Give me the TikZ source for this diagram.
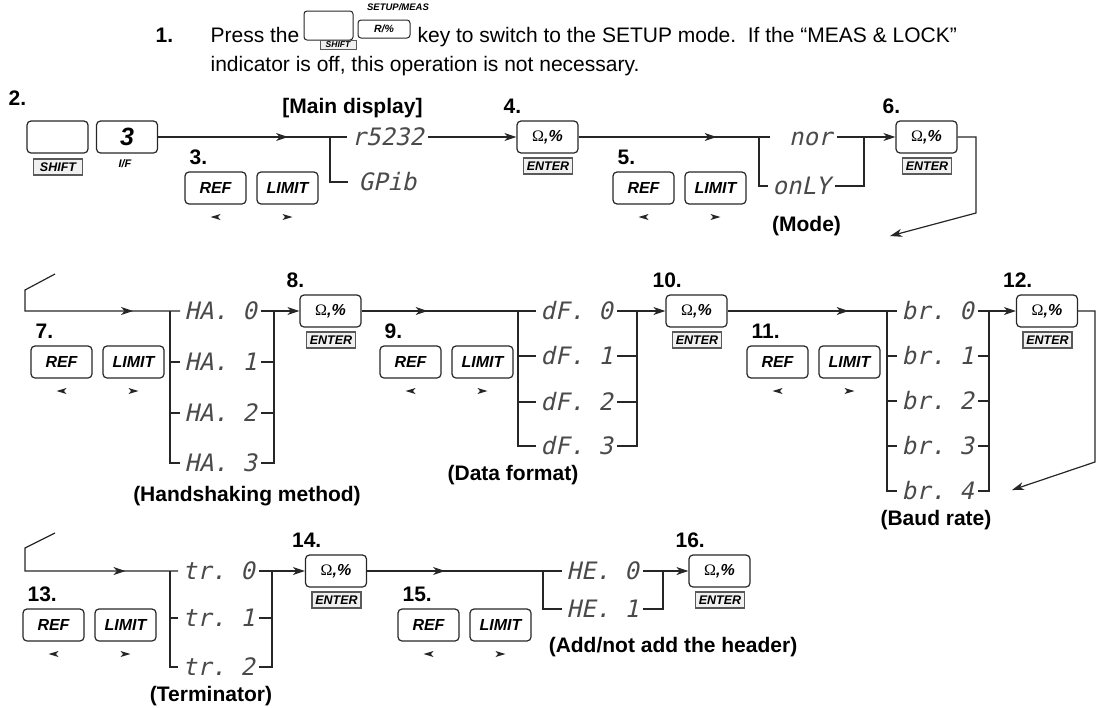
\documentclass[tikz,border=0pt]{standalone}
\usepackage{fontspec}
\setmainfont{Liberation Sans}
\newfontfamily\omegafont{Liberation Serif}
\newfontfamily\segfont[FakeSlant=0.22]{DejaVu Sans Mono}
\usetikzlibrary{arrows.meta, decorations.markings, positioning}
\definecolor{inkGrey}{HTML}{262626}
\definecolor{segGrey}{HTML}{4A4A4A}
\definecolor{tagFill}{HTML}{F0F0F0}
\newcommand{\ohmsign}{{\omegafont\mdseries\upshape Ω},\%}
\tikzset{
  % one line weight and one arrow tip for the whole chart
  every picture/.append style = {line width=1.2pt, >={Stealth[length=12pt, width=8pt, inset=3.5pt]}},
  wire/.style      = {inkGrey, line width=1.2pt},
  arrowhead/.style = {decoration={markings,
                        mark=at position #1 with {\arrow{>}}},
                       postaction={decorate}},
  key/.style       = {draw=inkGrey, rounded corners=4pt, minimum width=61pt, minimum height=32pt,
                      inner sep=0pt, font=\fontsize{16}{18}\selectfont\bfseries\itshape},
  keytag/.style    = {draw=black!65, fill=tagFill, line width=1.3pt, minimum width=49pt,
                      minimum height=16pt, inner sep=0pt, font=\fontsize{12.5}{14}\selectfont\bfseries\itshape},
  seg/.style       = {anchor=west, inner xsep=4pt, inner ysep=0pt, text height=17.5pt, text depth=0pt,
                      text=segGrey, font=\fontsize{24}{26}\selectfont\segfont},
  stepno/.style    = {anchor=base west, inner sep=0pt, font=\fontsize{21}{24}\selectfont\bfseries},
  lbl/.style       = {inner sep=0pt, font=\fontsize{21}{24}\selectfont\bfseries},
  txt/.style       = {anchor=base west, inner sep=0pt, font=\fontsize{21}{26}\selectfont},
  pics/lefttip/.style  = {code={\fill[inkGrey] (-5pt,0pt) -- (5pt,3pt) -- (2.5pt,0pt) -- (5pt,-3pt) -- cycle;}},
  pics/righttip/.style = {code={\fill[inkGrey] (5pt,0pt) -- (-5pt,3pt) -- (-2.5pt,0pt) -- (-5pt,-3pt) -- cycle;}},
}

\begin{document}
\begin{tikzpicture}[x=1pt, y=-1pt,
    minikey/.style={draw=inkGrey, line width=1pt, rounded corners=3pt, inner sep=0pt},
    minitag/.style={draw=black!65, fill=tagFill, line width=1pt, inner sep=0pt,
                    font=\fontsize{8.5}{9}\selectfont\bfseries\itshape}]
  \useasboundingbox (0,0) rectangle (1097,707);
  % step 1: instruction line
  \node[stepno] (n1) at (155,42) {1.};
  \node[txt] (press) at (210,42) {Press the};
  \node[minikey, minimum width=49pt, minimum height=29pt] (shifttop) at (328.5,25.5) {};
  \node[minitag, minimum width=36pt, minimum height=9pt] (shifttag) at (338,44.5) {SHIFT};
  \node[minikey, minimum width=52pt, minimum height=18pt,
        font=\fontsize{10.5}{11}\selectfont\bfseries\itshape] (rtop) at (384,29) {R/\%};
  \node[inner sep=0pt, font=\fontsize{9.5}{10}\selectfont\bfseries\itshape] (setup) at (398,7) {SETUP/MEAS};
  \node[txt] (line1) at (417,42) {key to switch to the SETUP mode.\ \ If the “MEAS \& LOCK”};
  \node[txt] (line2) at (210,71) {indicator is off, this operation is not necessary.};

  % step 2: SHIFT + I/F
  \node[stepno] (n2) at (8,105) {2.};
  \node[key] (k2a) at (57.5,137) {};
  \node[keytag] (t2a) at (58,167) {SHIFT};
  \node[key, font=\fontsize{25}{27}\selectfont\bfseries\itshape] (k2b) at (127,137) {3};
  \node[inner sep=0pt, font=\fontsize{11}{12}\selectfont\bfseries\itshape] (t2b) at (125,164) {I/F};

  % REF / LIMIT pairs
  \foreach \n/\x/\y in {3/215.5/188, 5/643.5/188, 7/61.5/362, 9/410.5/362,
                        11/777.5/362, 13/53.5/625, 15/428.5/625} {
    \node[key] (ref\n) at (\x,\y) {REF};
    \node[key] (lim\n) at (\x+72,\y) {LIMIT};
    \pic at (\x,\y+29) {lefttip};
    \pic at (\x+72,\y+29) {righttip};
    \node[stepno] (n\n) at (\x-26.5,\y-24) {\n.};
  }
  % ENTER keys
  \foreach \n/\x/\y in {4/547.5/137, 6/926.5/137, 8/330.5/311, 10/696.5/311,
                        12/1047/311, 14/336/571, 16/719.5/571} {
    \node[key] (e\n) at (\x,\y) {\ohmsign};
    \node[keytag] (t\n) at (\x+0.5,\y+29) {ENTER};
    \node[stepno] (n\n) at (\x-44.5,\y-24) {\n.};
  }

  % displays
  \node[seg] (rs) at (347,137) {r5232};
  \node[seg, inner xsep=10pt] (gp) at (348,182) {GPib};
  \node[seg] (nor) at (770,137) {\hphantom{o}nor};
  \node[seg] (only) at (768,186) {onLY};
  \foreach \v/\y in {0/311, 1/362, 2/413, 3/463}
    \node[seg] (ha\v) at (180,\y) {HA.~\v};
  \foreach \v/\y in {0/311, 1/356, 2/402, 3/446}
    \node[seg] (df\v) at (536,\y) {dF.~\v};
  \foreach \v/\y in {0/311, 1/356, 2/401, 3/446, 4/491}
    \node[seg] (br\v) at (897,\y) {br.~\v};
  \foreach \v/\y in {0/571, 1/618, 2/667}
    \node[seg] (tr\v) at (178,\y) {tr.~\v};
  \foreach \v/\y in {0/571, 1/609}
    \node[seg] (he\v) at (562,\y) {HE.~\v};

  % captions
  \node[lbl] (capmain) at (352.5,108) {[Main display]};
  \node[lbl] (capmode) at (806.5,226) {(Mode)};
  \node[lbl] (caphs) at (247,496) {(Handshaking method)};
  \node[lbl] (capdf) at (513,475) {(Data format)};
  \node[lbl] (capbr) at (936,520) {(Baud rate)};
  \node[lbl] (captr) at (211,696) {(Terminator)};
  \node[lbl] (caphd) at (673,647) {(Add/not add the header)};

  % junction points
  \coordinate (j1) at (330,137);
  \coordinate (j5) at (759,137);
  \coordinate (j6) at (864,137);
  \coordinate (j7) at (170,311);
  \coordinate (j8) at (274,311);
  \coordinate (j9) at (518,311);
  \coordinate (j10) at (637,311);
  \coordinate (j11) at (887,311);
  \coordinate (j12) at (989,311);
  \coordinate (j13) at (170,571);
  \coordinate (j14) at (272,571);
  \coordinate (j15) at (543,571);
  \coordinate (j16) at (663,571);
  % bends of the carry-over lines
  \coordinate (c6a) at (976,137);
  \coordinate (c6b) at (976,213);
  \coordinate (c6c) at (890,236);
  \coordinate (c12a) at (1095,311);
  \coordinate (c12b) at (1095,462);
  \coordinate (c12c) at (1012,490);
  \coordinate (s7a) at (55,274);
  \coordinate (s7b) at (25,290);
  \coordinate (s7c) at (25,311);
  \coordinate (s13a) at (55,533);
  \coordinate (s13b) at (25,548);
  \coordinate (s13c) at (25,571);

  % row 1
  \draw[wire, arrowhead=130pt] (k2b.east) -- (rs.west);
  \draw[wire] (j1) |- (gp.west);
  \draw[wire, ->] (rs.east) -- (e4.west);
  \draw[wire, arrowhead=138pt] (e4.east) -- (nor.west);
  \draw[wire] (j5) |- (only.west);
  \draw[wire, ->] (nor.east) -- (e6.west);
  \draw[wire] (j6) |- (only.east);
  \draw[wire, ->] (e6.east) -- (c6a) -- (c6b) -- (c6c);

  % row 2
  \draw[wire, arrowhead=163pt] (s7a) -- (s7b) -- (s7c) -- (ha0.west);
  \draw[wire] (j7) |- (ha3.west);
  \draw[wire, ->] (ha0.east) -- (e8.west);
  \draw[wire] (j8) |- (ha3.east);
  \foreach \v in {1,2} {
    \draw[wire] (j7 |- ha\v.west) -- (ha\v.west);
    \draw[wire] (ha\v.east) -- (j8 |- ha\v.east);
  }
  \draw[wire, arrowhead=66pt] (e8.east) -- (df0.west);
  \draw[wire] (j9) |- (df3.west);
  \draw[wire, ->] (df0.east) -- (e10.west);
  \draw[wire] (j10) |- (df3.east);
  \foreach \v in {1,2} {
    \draw[wire] (j9 |- df\v.west) -- (df\v.west);
    \draw[wire] (df\v.east) -- (j10 |- df\v.east);
  }
  \draw[wire, arrowhead=121pt] (e10.east) -- (br0.west);
  \draw[wire] (j11) |- (br4.west);
  \draw[wire, ->] (br0.east) -- (e12.west);
  \draw[wire] (j12) |- (br4.east);
  \foreach \v in {1,2,3} {
    \draw[wire] (j11 |- br\v.west) -- (br\v.west);
    \draw[wire] (br\v.east) -- (j12 |- br\v.east);
  }
  \draw[wire, ->] (e12.east) -- (c12a) -- (c12b) -- (c12c);

  % row 3
  \draw[wire, arrowhead=157pt] (s13a) -- (s13b) -- (s13c) -- (tr0.west);
  \draw[wire] (j13) |- (tr2.west);
  \draw[wire, ->] (tr0.east) -- (e14.west);
  \draw[wire] (j14) |- (tr2.east);
  \draw[wire] (j13 |- tr1.west) -- (tr1.west);
  \draw[wire] (tr1.east) -- (j14 |- tr1.east);
  \draw[wire, arrowhead=78pt] (e14.east) -- (he0.west);
  \draw[wire] (j15) |- (he1.west);
  \draw[wire, ->] (he0.east) -- (e16.west);
  \draw[wire] (j16) |- (he1.east);
\end{tikzpicture}
\end{document}
